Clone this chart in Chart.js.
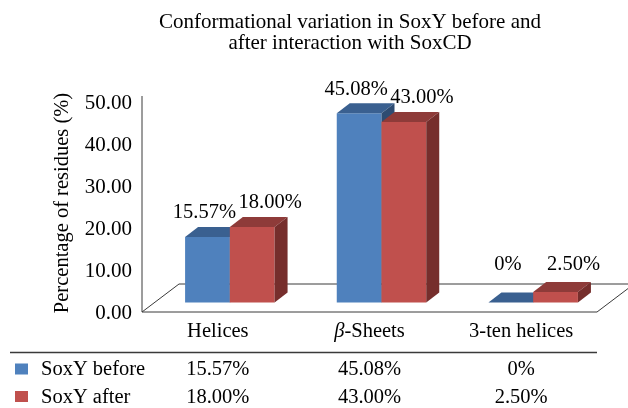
<!DOCTYPE html>
<html>
<head>
<meta charset="utf-8">
<script src="https://cdn.jsdelivr.net/npm/chart.js@4/dist/chart.umd.min.js"></script>
<style>
  html, body { margin: 0; padding: 0; background: #fff; }
  canvas { display: block; }
</style>
</head>
<body>
<canvas id="myChart" width="628" height="408"></canvas>
<script>
const categories = ['Helices', 'β-Sheets', '3-ten helices'];
const seriesNames = ['SoxY before', 'SoxY after'];
const soxyBefore = [15.57, 45.08, 0];
const soxyAfter = [18.00, 43.00, 2.50];
const yTicks = [0, 10, 20, 30, 40, 50];
const titleLines = ['Conformational variation in SoxY before and', 'after interaction with SoxCD'];
const yTitle = 'Percentage of residues (%)';

const FONT = '"Liberation Serif", "Times New Roman", serif';
const TXT = '20.5px ' + FONT;
const frontColors = ['#4F81BD', '#C0504D'];
const topColors = ['#3A6090', '#8E3B39'];
const sideColors = ['#2E4C72', '#762E2C'];

// 3D look: bars sit a third of the way into the floor
const SHIFT = { x: 12, y: -9.5 };
const DEPTH = { x: 13, y: -10 };
const FLOOR = { x: 37, y: -28 };

const fmtPct = v => (v === 0 ? '0%' : v.toFixed(2) + '%');

const threeD = {
  id: 'threeD',
  beforeDatasetsDraw(chart) {
    const { ctx, chartArea: a } = chart;
    ctx.save();
    ctx.strokeStyle = '#3a3a3a';
    ctx.lineWidth = 1;
    // floor
    ctx.beginPath();
    ctx.moveTo(a.left, a.bottom);
    ctx.lineTo(a.right, a.bottom);
    ctx.lineTo(a.right + FLOOR.x, a.bottom + FLOOR.y);
    ctx.lineTo(a.left + FLOOR.x, a.bottom + FLOOR.y);
    ctx.closePath();
    ctx.stroke();
    // value axis
    ctx.beginPath();
    ctx.moveTo(a.left, a.top - 6);
    ctx.lineTo(a.left, a.bottom);
    ctx.stroke();
    ctx.restore();
  },
  // chart.js paints the last dataset first; we paint them ourselves in order
  beforeDatasetDraw() {
    return false;
  },
  afterDatasetsDraw(chart) {
    const ctx = chart.ctx;
    ctx.save();
    ctx.translate(SHIFT.x, SHIFT.y);
    chart.data.datasets.forEach((ds, i) => {
      chart.getDatasetMeta(i).data.forEach(bar => {
        bar.draw(ctx);
        const { x, y, base, width } = bar.getProps(['x', 'y', 'base', 'width'], true);
        const l = x - width / 2, r = x + width / 2;
        ctx.fillStyle = topColors[i];
        ctx.beginPath();
        ctx.moveTo(l, y);
        ctx.lineTo(r, y);
        ctx.lineTo(r + DEPTH.x, y + DEPTH.y);
        ctx.lineTo(l + DEPTH.x, y + DEPTH.y);
        ctx.closePath();
        ctx.fill();
        ctx.fillStyle = sideColors[i];
        ctx.beginPath();
        ctx.moveTo(r, y);
        ctx.lineTo(r + DEPTH.x, y + DEPTH.y);
        ctx.lineTo(r + DEPTH.x, base + DEPTH.y);
        ctx.lineTo(r, base);
        ctx.closePath();
        ctx.fill();
      });
    });
    ctx.restore();
  },
  afterDraw(chart) {
    const { ctx, chartArea: a } = chart;
    const xs = chart.scales.x, ys = chart.scales.y;
    ctx.save();
    ctx.fillStyle = '#000';

    // title
    ctx.font = '21px ' + FONT;
    ctx.textAlign = 'center';
    ctx.textBaseline = 'alphabetic';
    titleLines.forEach((t, k) => ctx.fillText(t, 350, 28 + k * 21));

    // y ticks
    ctx.font = '21px ' + FONT;
    ctx.textAlign = 'right';
    ctx.textBaseline = 'middle';
    yTicks.forEach(t => ctx.fillText(t.toFixed(2), a.left - 10, ys.getPixelForValue(t) + 1));

    // y title
    ctx.font = TXT;
    ctx.save();
    ctx.translate(63, (a.top + a.bottom) / 2 - 4);
    ctx.rotate(-Math.PI / 2);
    ctx.textAlign = 'center';
    ctx.fillText(yTitle, 0, 0);
    ctx.restore();

    // data labels
    ctx.textAlign = 'center';
    const floorBack = a.bottom + FLOOR.y;
    chart.data.datasets.forEach((ds, i) => {
      chart.getDatasetMeta(i).data.forEach((bar, j) => {
        const lx = bar.x + SHIFT.x + (i === 0 ? -3 : 18);
        const ly = Math.min(bar.y + SHIFT.y + DEPTH.y - 14, floorBack - 19);
        ctx.fillText(fmtPct(ds.data[j]), lx, ly);
      });
    });

    // category labels
    ctx.textBaseline = 'alphabetic';
    categories.forEach((c, j) => {
      const cx = xs.getPixelForValue(j);
      if (c.startsWith('β')) {
        const rest = c.slice(1);
        ctx.font = 'italic ' + TXT;
        const wb = ctx.measureText('β').width;
        ctx.font = TXT;
        const wr = ctx.measureText(rest).width;
        const x0 = cx - (wb + wr) / 2;
        ctx.textAlign = 'left';
        ctx.font = 'italic ' + TXT;
        ctx.fillText('β', x0, 337);
        ctx.font = TXT;
        ctx.fillText(rest, x0 + wb, 337);
        ctx.textAlign = 'center';
      } else {
        ctx.fillText(c, cx, 337);
      }
    });

    // data table
    ctx.strokeStyle = '#3a3a3a';
    ctx.lineWidth = 1.3;
    ctx.beginPath();
    ctx.moveTo(10, 352.5);
    ctx.lineTo(a.right, 352.5);
    ctx.stroke();
    const rowBase = [375, 402.5];
    chart.data.datasets.forEach((ds, i) => {
      ctx.fillStyle = frontColors[i];
      ctx.fillRect(15, rowBase[i] - 11.5, 13, 11);
      ctx.fillStyle = '#000';
      ctx.textAlign = 'left';
      ctx.fillText(seriesNames[i], 41, rowBase[i]);
      ctx.textAlign = 'center';
      ds.data.forEach((v, j) => ctx.fillText(fmtPct(v), xs.getPixelForValue(j), rowBase[i]));
    });
    ctx.restore();
  }
};

new Chart(document.getElementById('myChart'), {
  type: 'bar',
  data: {
    labels: categories,
    datasets: [
      { label: seriesNames[0], data: soxyBefore, backgroundColor: frontColors[0] },
      { label: seriesNames[1], data: soxyAfter, backgroundColor: frontColors[1] }
    ]
  },
  options: {
    responsive: false,
    animation: false,
    devicePixelRatio: 1,
    layout: { padding: { left: 142, right: 31, top: 102, bottom: 96 } },
    datasets: {
      bar: { categoryPercentage: 0.59, barPercentage: 1, borderWidth: 0, clip: false }
    },
    scales: {
      x: { display: false },
      y: { display: false, min: 0, max: 50 }
    },
    plugins: {
      legend: { display: false },
      title: { display: false },
      tooltip: { enabled: false }
    }
  },
  plugins: [threeD]
});
</script>
</body>
</html>
